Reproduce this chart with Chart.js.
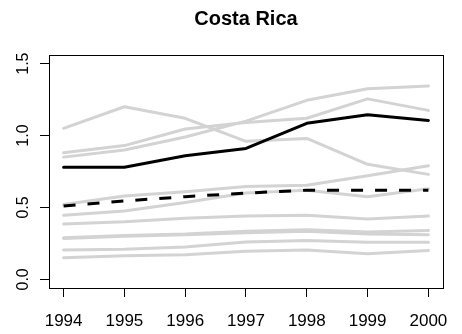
<!DOCTYPE html>
<html>
<head>
<meta charset="utf-8">
<script src="https://cdn.jsdelivr.net/npm/chart.js@4.4.1/dist/chart.umd.min.js"></script>
<style>
    html, body { margin: 0; background: #fff; }
</style>
</head>
<body>
<canvas id="myChart" width="462" height="334"></canvas>
<script>

const years = [1994, 1995, 1996, 1997, 1998, 1999, 2000];
const yTicks = [0, 0.5, 1.0, 1.5];

// Costa Rica and the regional mean
const costaRica = [0.78, 0.78, 0.86, 0.91, 1.085, 1.145, 1.105];
const regionMean = [0.51, 0.545, 0.575, 0.60, 0.62, 0.62, 0.62];

// the other countries, drawn in grey behind
const peer1 = [1.05, 1.20, 1.12, 0.96, 0.98, 0.80, 0.73];
const peer2 = [0.88, 0.93, 1.045, 1.09, 1.12, 1.255, 1.175];
const peer3 = [0.85, 0.90, 0.99, 1.10, 1.245, 1.325, 1.345];
const peer4 = [0.52, 0.58, 0.61, 0.645, 0.655, 0.72, 0.79];
const peer5 = [0.445, 0.475, 0.535, 0.60, 0.62, 0.575, 0.63];
const peer6 = [0.385, 0.40, 0.425, 0.44, 0.445, 0.42, 0.44];
const peer7 = [0.29, 0.305, 0.315, 0.335, 0.345, 0.33, 0.34];
const peer8 = [0.285, 0.30, 0.31, 0.325, 0.335, 0.315, 0.31];
const peer9 = [0.205, 0.21, 0.225, 0.26, 0.27, 0.258, 0.258];
const peer10 = [0.15, 0.165, 0.172, 0.195, 0.205, 0.178, 0.20];

const peers = [peer1, peer2, peer3, peer4, peer5, peer6, peer7, peer8, peer9, peer10];

const FONT = '"Liberation Sans", Arial, sans-serif';

function points(values) {
    return values.map((v, i) => ({ x: years[i], y: v }));
}

const datasets = [
    {
        label: 'Costa Rica',
        data: points(costaRica),
        borderColor: 'black',
        borderWidth: 3,
        borderCapStyle: 'round',
        borderJoinStyle: 'round',
        order: 0
    },
    {
        label: 'Mean',
        data: points(regionMean),
        borderColor: 'black',
        borderWidth: 3,
        borderDash: [12, 12],
        borderCapStyle: 'butt',
        order: 0
    }
];

peers.forEach(function (p, i) {
    datasets.push({
        label: 'peer' + (i + 1),
        data: points(p),
        borderColor: '#d3d3d3',
        borderWidth: 3,
        borderCapStyle: 'round',
        borderJoinStyle: 'round',
        order: 1
    });
});

// full box round the plot region
const boxPlugin = {
    id: 'box',
    afterDatasetsDraw(chart) {
        const a = chart.chartArea;
        const ctx = chart.ctx;
        ctx.save();
        ctx.strokeStyle = 'black';
        ctx.lineWidth = 1;
        ctx.strokeRect(Math.round(a.left) + 0.5, Math.round(a.top) + 0.5,
            Math.round(a.right - a.left), Math.round(a.bottom - a.top));
        ctx.restore();
    }
};

const config = {
    type: 'line',
    data: { datasets: datasets },
    options: {
        responsive: false,
        animation: false,
        events: [],
        elements: { point: { radius: 0 }, line: { tension: 0 } },
        layout: { padding: { left: 0, right: 10, top: 0, bottom: 0 } },
        plugins: {
            legend: { display: false },
            tooltip: { enabled: false },
            title: {
                display: true,
                fullSize: false,
                text: 'Costa Rica',
                color: 'black',
                font: { family: FONT, size: 20, weight: 'bold', lineHeight: 1.2 },
                padding: { top: 7, bottom: 24 }
            }
        },
        scales: {
            x: {
                type: 'linear',
                min: 1993.76,
                max: 2000.24,
                afterBuildTicks: s => { s.ticks = years.map(v => ({ value: v })); },
                afterFit: s => { s.height = 46; },
                grid: { drawOnChartArea: false, drawTicks: true, tickLength: 9, color: 'black', lineWidth: 1 },
                border: { display: false },
                ticks: {
                    color: 'black',
                    font: { family: FONT, size: 17 },
                    padding: 14,
                    maxRotation: 0,
                    autoSkip: false,
                    callback: v => String(v)
                }
            },
            y: {
                type: 'linear',
                min: -0.06,
                max: 1.56,
                afterBuildTicks: s => { s.ticks = yTicks.map(v => ({ value: v })); },
                afterFit: s => { s.width = 49; },
                grid: { drawOnChartArea: false, drawTicks: true, tickLength: 9, color: 'black', lineWidth: 1 },
                border: { display: false },
                ticks: {
                    color: 'black',
                    font: { family: FONT, size: 16 },
                    padding: 5,
                    minRotation: 90,
                    maxRotation: 90,
                    crossAlign: 'center',
                    autoSkip: false,
                    callback: v => v.toFixed(1)
                }
            }
        }
    },
    plugins: [boxPlugin]
};

const myChart = new Chart(
    document.getElementById('myChart'),
    config
);

</script>
</body>
</html>
